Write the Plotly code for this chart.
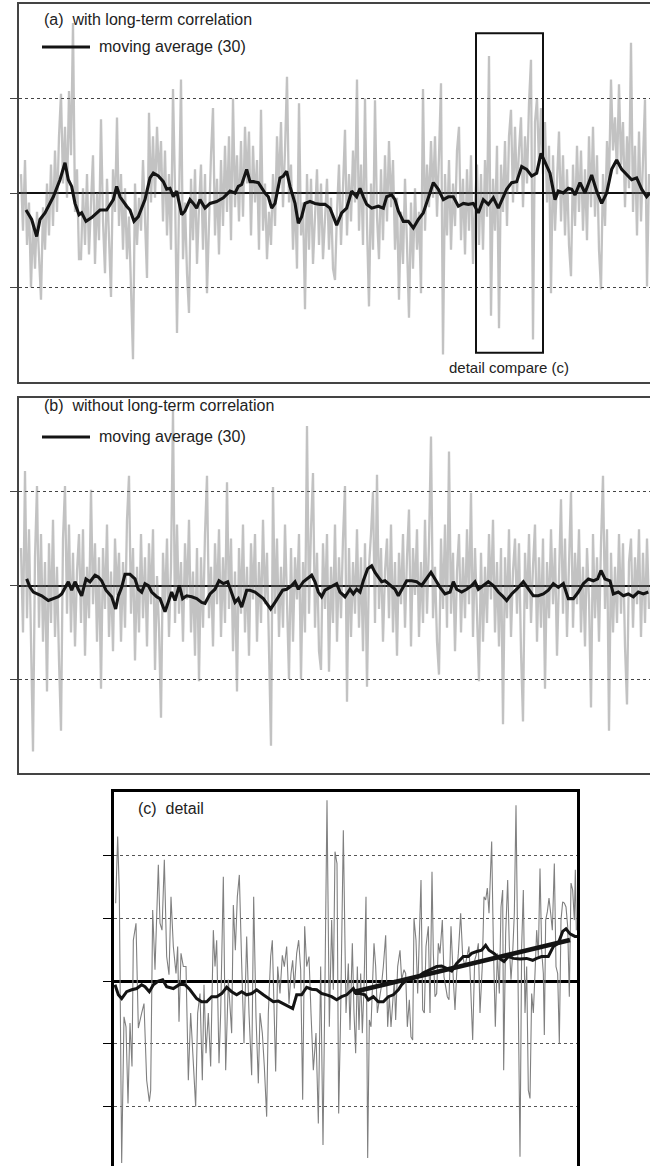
import plotly.graph_objects as go

W, H = 650, 1166

# ---------------- data ----------------
# (a) raw series with long-term correlation (hundredths), one sample every 6 time units from t=63
noise_a = [
    20, -40, 35, -55, -10, -100, -30, -80, -20, -65,
    -113, -15, -60, 10, -45, 30, -35, 45, -20, 60,
    105, 10, 70, -5, 108, 40, 180, -20, 25, -70,
    -70, 5, -55, 20, -65, -10, 40, -75, 0, -50,
    78, -30, -85, 15, -40, -110, 25, -20, 80, -35,
    20, -60, 5, -70, -25, -90, -176, 10, -55, -5,
    -40, 35, -20, -90, 85, -10, 60, -5, 70, 15,
    55, -30, 45, -45, 20, -60, 110, 5, -148, -20,
    120, -70, -10, -85, -127, 15, -50, 25, -75, -15,
    30, -60, 20, -106, -30, 40, 90, -45, 15, -65,
    35, -35, 50, -20, 60, -50, 100, -15, 40, -30,
    55, -25, 70, 10, 65, -45, 50, -10, 35, -60,
    88, -40, 10, -70, -20, -55, 20, -35, 60, 5,
    75, -15, 45, 123, -10, 30, -60, 0, -80, 95,
    -45, -10, -123, 20, -60, 15, -75, -20, 25, -55,
    10, -70, -25, 15, -60, -5, -80, -92, -20, 30,
    -55, 15, 67, -45, 20, -30, 45, -10, 120, -40,
    30, -55, 100, -35, -120, 10, -60, 98, -25, -70,
    25, -50, 40, -30, 55, -15, 35, -60, -5, -113,
    -20, -75, 15, -55, -132, -10, -80, 5, -60, -20,
    -106, 110, -40, 30, -15, 55, -5, 60, -25, 40,
    116, -171, 20, -45, 35, -60, 10, -35, 45, 70,
    -50, 15, -65, 25, -40, 40, -75, -10, 30, -55,
    20, -60, 35, -25, 145, -130, 15, -40, 50, -143,
    30, -20, 55, -35, 60, 88, -10, 70, 0, 45,
    80, -15, 60, 10, 95, 141, -155, 75, 100, 30,
    90, 20, 75, -10, 50, -106, 40, -40, 15, 65,
    -30, 40, -45, 25, -55, -88, 30, -35, 50, -20,
    45, -40, 25, -50, 60, -15, 70, -25, 40, -60,
    -102, 20, -35, 55, 10, 120, 45, 80, 20, 115,
    30, 75, -15, 60, 5, 159, -20, 50, -45, 65,
    -30, 40, 99, -99, 20,
]

# (b) raw series without long-term correlation (hundredths)
noise_b = [
    40, -50, 122, -35, 60, -70, -177, 30, 106, -45,
    55, -60, 25, -113, 45, -40, 70, -55, 20, -80,
    -155, 50, 106, -30, 65, -50, 35, -65, 15, 55,
    -40, 60, -75, 20, -35, 102, -20, 45, -60, 30,
    -110, 40, -25, 65, -55, 15, -70, 50, -10, 35,
    -60, 25, -45, 70, 117, -30, 40, -80, 20, -50,
    55, -35, 30, -65, 45, -20, 60, -90, 10, -45,
    -141, 35, -25, 50, -55, 20, 187, -40, 65, -30,
    25, -60, 45, -15, 70, -50, 15, -75, 40, -102,
    30, -45, 55, 117, -35, 20, -65, 45, -20, 60,
    -55, 30, -40, 110, -25, 50, -70, 15, -113, 40,
    -30, 65, -50, 20, -75, 45, -15, 55, -60, 25,
    -40, 70, -20, 35, -85, -171, 105, -30, 50, -55,
    20, -45, 65, -25, -100, 40, -60, 30, -15, 55,
    -100, 25, -50, 170, -30, 60, 120, -45, 35, -70,
    -90, 45, -25, 55, -92, 20, -40, 65, -60, 30,
    -35, 50, 106, -124, 40, -55, 25, -30, 60, -45,
    30, -70, 45, -108, 20, 55, 100, -40, 118, -25,
    40, -60, 15, 50, -35, 65, -50, 25, -75, 35,
    -20, 55, -45, 30, 81, -65, 40, -10, 60, -55,
    25, -40, 70, -30, 45, 159, -35, 20, -60, -95,
    50, -25, 65, -45, 143, -30, 35, -70, 15, 55,
    -50, 30, -35, 60, -20, 99, -55, 40, -25, -102,
    35, -60, 20, -40, 55, -15, 70, -50, 25, -65,
    40, -148, 30, -35, 60, -55, 15, 50, -30, 45,
    -70, -145, 35, -25, 55, -40, 20, 65, -60, 30,
    -45, 50, -110, 25, -35, 60, -20, 40, -75, 15,
    92, -30, 50, -55, 25, 100, -45, 35, -20, 60,
    -50, 20, -65, 40, -15, -130, 55, -35, 30, -60,
    45, 117, -25, 60, -155, 35, -50, 20, -40, 55,
    -30, 45, -65, -127, 25, 50, -45, 30, -20, 60,
    -55, 35, -40, 50, -25,
]

# moving averages (30): (time, value)
ma_a = [
    (78, -0.18), (95, -0.28), (110, -0.46), (120, -0.28), (135, -0.21), (160, -0.04), (180, 0.14),
    (195, 0.32), (205, 0.14), (215, 0.07), (225, -0.11), (237, -0.23), (245, -0.21), (258, -0.30),
    (275, -0.26), (300, -0.18), (320, -0.18), (340, -0.07), (350, 0.07), (360, -0.04), (380, -0.14),
    (390, -0.18), (402, -0.30), (415, -0.25), (435, -0.07), (450, 0.16), (460, 0.21), (475, 0.18),
    (490, 0.12), (500, 0.04), (510, 0.05), (520, -0.04), (530, 0.02), (545, -0.23), (555, -0.19),
    (570, -0.07), (580, -0.11), (590, -0.16), (600, -0.07), (615, -0.16), (630, -0.11), (650, -0.09),
    (670, -0.05), (690, 0.02), (705, 0.0), (715, 0.07), (725, 0.09), (740, 0.25), (750, 0.12),
    (760, 0.12), (775, 0.11), (785, 0.05), (795, 0.0), (805, -0.04), (815, -0.16), (825, -0.11),
    (840, 0.16), (850, 0.18), (860, 0.23), (870, 0.07), (885, -0.11), (895, -0.32), (905, -0.25),
    (915, -0.11), (930, -0.09), (945, -0.11), (960, -0.12), (975, -0.12),
    (990, -0.16), (1010, -0.34), (1025, -0.21), (1040, -0.16), (1055, 0.02), (1070, -0.04),
    (1080, 0.05), (1090, -0.04), (1100, -0.12), (1115, -0.16), (1135, -0.14), (1150, -0.16),
    (1160, -0.04), (1175, -0.02), (1185, -0.07), (1195, -0.19), (1210, -0.30), (1225, -0.30),
    (1240, -0.37), (1255, -0.28), (1270, -0.21), (1285, -0.05), (1300, 0.11), (1315, 0.04),
    (1330, -0.07), (1345, -0.04), (1360, -0.04), (1375, -0.14), (1390, -0.11), (1405, -0.12),
    (1420, -0.11), (1435, -0.21), (1450, -0.07), (1465, -0.12), (1480, -0.05), (1495, -0.16),
    (1510, -0.05), (1520, 0.04), (1535, 0.11), (1550, 0.12), (1565, 0.28), (1580, 0.25),
    (1595, 0.18), (1610, 0.21), (1623, 0.42), (1635, 0.32), (1650, 0.21), (1665, -0.07),
    (1675, 0.02), (1690, 0.0), (1705, 0.05), (1715, 0.04), (1725, -0.02), (1740, 0.11),
    (1755, 0.0), (1775, 0.19), (1790, 0.02), (1805, -0.11), (1820, 0.0), (1835, 0.25),
    (1850, 0.35), (1865, 0.25), (1880, 0.19), (1895, 0.14), (1910, 0.16), (1925, 0.04),
    (1940, -0.04), (1950, 0.0),
]

ma_b = [
    (80, 0.07), (90, -0.02), (100, -0.07), (115, -0.09), (125, -0.11), (145, -0.16), (160, -0.14),
    (175, -0.12), (185, -0.09), (195, -0.02), (205, 0.04), (215, -0.05), (225, 0.04), (235, -0.04),
    (245, -0.11), (258, 0.07), (270, 0.04), (285, 0.11), (295, 0.09), (305, 0.05), (318, -0.05),
    (335, -0.12), (347, -0.25), (355, -0.11), (365, -0.02), (375, 0.12), (390, 0.12), (405, 0.07),
    (415, -0.04), (425, -0.07), (435, 0.02), (445, 0.0), (455, -0.07), (470, -0.12), (480, -0.14),
    (495, -0.28), (505, -0.18), (515, -0.07), (525, -0.16), (538, 0.0), (548, -0.14), (560, -0.11),
    (575, -0.12), (590, -0.14), (605, -0.18), (615, -0.19), (630, -0.09), (645, -0.04), (657, 0.05),
    (670, 0.02), (683, 0.04), (693, -0.05), (705, -0.18), (715, -0.14), (725, -0.23), (740, -0.05),
    (750, -0.05), (765, -0.07), (780, -0.11), (790, -0.14), (800, -0.19), (812, -0.25), (825, -0.18),
    (835, -0.12), (848, -0.05), (860, -0.04), (875, 0.0), (885, 0.04), (895, -0.04), (910, 0.04),
    (922, 0.07), (935, 0.11), (945, 0.04), (955, -0.07), (965, -0.12), (975, -0.05),
    (990, -0.02), (1000, 0.0), (1010, 0.02), (1020, -0.07), (1035, -0.12), (1050, -0.04),
    (1060, -0.09), (1070, -0.04), (1080, -0.07), (1090, 0.05), (1103, 0.18), (1115, 0.21),
    (1125, 0.14), (1135, 0.09), (1145, 0.04), (1155, 0.05), (1170, 0.0), (1185, -0.04),
    (1195, -0.11), (1210, -0.02), (1220, 0.05), (1235, 0.05), (1250, 0.04), (1265, 0.0),
    (1280, 0.07), (1293, 0.14), (1305, 0.07), (1320, -0.02), (1335, -0.09), (1350, -0.07),
    (1360, 0.04), (1370, -0.04), (1385, -0.07), (1400, -0.04), (1415, 0.0), (1425, 0.04),
    (1435, -0.04), (1450, 0.0), (1465, 0.04), (1480, 0.0), (1495, -0.07), (1507, -0.11),
    (1520, -0.16), (1535, -0.09), (1550, -0.04), (1570, 0.04), (1585, -0.04), (1600, -0.11),
    (1615, -0.11), (1630, -0.09), (1645, -0.05), (1660, 0.02), (1675, -0.02), (1690, 0.02),
    (1705, -0.14), (1720, -0.14), (1735, -0.07), (1750, 0.02), (1765, 0.07), (1780, 0.05),
    (1793, 0.07), (1803, 0.16), (1815, 0.07), (1830, 0.05), (1840, -0.09), (1855, -0.07),
    (1870, -0.11), (1885, -0.09), (1900, -0.12), (1915, -0.07), (1930, -0.09), (1945, -0.07),
]

# (c) detail: raw series (time, value)
detail_raw = [
    (47, 1.24), (53, 2.30), (58, 1.40), (65, -2.90), (72, -0.57), (78, -0.73), (84, -1.95),
    (90, -0.67), (96, -1.36), (100, 0.65), (108, 0.92), (115, -0.75), (125, -0.51), (132, -0.36),
    (140, -1.58), (148, -1.92), (152, -1.74), (158, 1.13), (165, 0.18), (175, 1.85), (180, 0.92),
    (186, 0.81), (193, 1.93), (200, 0.39), (207, 0.10), (213, 1.34), (220, 0.55), (228, 0.12),
    (233, 0.55), (237, -0.65), (243, 0.44), (250, 0.23), (258, 0.23), (265, -1.58), (272, -0.51),
    (280, -1.26), (287, -2.00), (293, -0.51), (300, -0.20), (307, -1.58), (312, -0.06),
    (318, -1.15), (325, -0.51), (332, -1.36), (340, 0.81), (345, 0.23), (350, 0.65), (357, -1.31),
    (362, -0.51), (370, 1.66), (377, -1.42), (385, 0.02), (395, -0.83), (400, 1.21), (406, 0.49),
    (412, 1.34), (418, 1.69), (425, 0.28), (432, -0.99), (440, 0.71), (447, -0.51), (455, -1.50),
    (461, 1.34), (468, -0.57), (475, -1.63), (480, -0.51), (487, -0.83), (493, -1.36),
    (500, -2.16), (505, -0.51), (512, 0.39), (517, 0.65), (522, -0.51), (527, -1.44), (533, 0.23),
    (540, -0.20), (547, 0.41), (553, 0.23), (560, 0.55), (567, -0.36), (573, 0.12), (578, 0.33),
    (583, -0.12), (590, 0.44), (596, 0.65), (602, 0.18), (608, -1.89), (614, 0.87), (620, 0.23),
    (627, 0.39), (633, -0.51), (640, -1.42), (648, -0.83), (655, -2.27), (662, 0.23),
    (669, -2.61), (675, 0.02), (681, 2.88), (688, -0.73), (695, 0.97), (700, -0.14), (705, 2.06),
    (711, 1.87), (716, -2.11), (722, -0.51), (730, 2.40), (738, -0.51), (745, 0.28),
    (750, -0.78), (757, 0.60), (762, -0.51), (767, -1.15), (772, 0.23), (777, -0.78), (782, 0.12),
    (787, -0.83), (792, -0.09), (798, 1.34), (803, -2.82), (808, -0.62), (813, -0.73),
    (817, -0.25), (822, 0.60), (827, 0.23), (832, -0.51), (838, -0.30), (844, -0.09), (850, 0.23),
    (857, 0.73), (863, -0.73), (868, -0.25), (873, -0.73), (878, -0.30), (883, 0.02),
    (887, -0.62), (893, 0.23), (900, 0.49), (905, 0.02), (912, 0.18), (917, 0.12), (922, -0.73),
    (928, -0.30), (933, -0.89), (938, -0.94), (942, 1.00), (948, 0.65), (953, -0.20), (958, 0.55),
    (963, 1.61), (968, -0.46), (973, -0.51), (978, 0.55), (985, 0.87), (990, -0.51), (996, 1.74),
    (1000, 0.44), (1005, -0.25), (1010, -0.20), (1015, 0.60), (1020, 0.44), (1027, 0.97),
    (1032, 0.07), (1037, -0.09), (1042, -0.25), (1047, -0.30), (1053, 0.87), (1060, 0.02),
    (1065, -0.46), (1070, 0.12), (1075, 0.44), (1082, 1.08), (1088, 0.39), (1095, 0.23),
    (1100, 0.39), (1107, 0.55), (1112, -0.09), (1118, -0.94), (1124, 0.33), (1130, 0.44),
    (1135, 0.60), (1140, -0.51), (1147, 0.25), (1152, 1.34), (1157, 1.29), (1162, 1.48),
    (1167, 1.08), (1172, 1.66), (1175, 2.22), (1180, 0.60), (1186, -0.73), (1192, 0.44),
    (1198, -0.20), (1203, 1.18), (1208, 1.45), (1211, -1.42), (1217, 0.76), (1223, 1.61),
    (1228, 0.55), (1233, 0.02), (1238, 0.44), (1243, 1.08), (1248, 2.80), (1253, 0.55),
    (1260, -2.80), (1265, 0.55), (1270, 1.45), (1275, -0.51), (1280, 0.23), (1285, -1.74),
    (1290, -1.87), (1295, -0.20), (1300, -0.51), (1305, 0.12), (1310, 0.81), (1315, 0.39),
    (1320, 1.79), (1325, 0.49), (1330, 0.12), (1333, -0.86), (1337, 0.97), (1342, 1.10),
    (1347, 1.32), (1352, 1.08), (1357, 0.81), (1363, 1.87), (1368, 0.23), (1373, 0.12),
    (1378, -0.99), (1383, 0.97), (1388, 1.26), (1393, 1.24), (1398, 1.18), (1403, 0.87),
    (1408, -0.25), (1413, 1.56), (1418, 1.45), (1423, 0.97), (1426, 1.77), (1429, 0.81),
]

detail_ma = [
    (45, -0.06), (55, -0.22), (65, -0.28), (80, -0.17), (95, -0.14), (110, -0.12), (125, -0.06),
    (135, -0.09), (148, -0.17), (160, -0.06), (175, 0.0), (188, 0.02), (200, -0.09), (220, -0.12),
    (240, -0.05), (255, -0.06), (270, -0.14), (290, -0.28), (305, -0.33), (320, -0.33),
    (335, -0.25), (350, -0.25), (365, -0.20), (380, -0.10), (395, -0.17), (410, -0.22),
    (425, -0.17), (440, -0.22), (455, -0.20), (470, -0.14), (490, -0.22), (505, -0.28),
    (520, -0.33), (535, -0.32), (550, -0.36), (565, -0.41), (578, -0.44), (590, -0.22),
    (605, -0.22), (620, -0.10), (635, -0.13), (650, -0.14), (665, -0.20), (680, -0.22),
    (695, -0.25), (710, -0.30), (725, -0.25), (740, -0.22), (760, -0.12), (768, -0.20),
    (780, -0.20), (795, -0.22), (805, -0.30), (820, -0.25), (835, -0.33), (850, -0.33),
    (865, -0.25), (880, -0.22), (895, -0.14), (905, -0.06), (920, 0.02), (935, 0.03), (955, 0.07),
    (970, 0.13), (990, 0.18), (1010, 0.23), (1025, 0.24), (1040, 0.20), (1055, 0.16), (1070, 0.28),
    (1080, 0.33), (1090, 0.39), (1105, 0.39), (1115, 0.44), (1130, 0.47), (1145, 0.49),
    (1157, 0.57), (1167, 0.49), (1182, 0.44), (1198, 0.36), (1212, 0.31), (1225, 0.39),
    (1240, 0.36), (1260, 0.35), (1280, 0.36), (1298, 0.33), (1310, 0.36), (1325, 0.39),
    (1345, 0.39), (1360, 0.55), (1375, 0.60), (1388, 0.79), (1398, 0.83), (1410, 0.75),
    (1425, 0.71), (1431, 0.71),
]

detail_trend = [(760, -0.175), (1410, 0.653)]

# detail window marked in (a): time span and value span
detail_window_t = (1428, 1629)
detail_window_v = (-1.69, 1.69)

# ---------------- figure ----------------
t_a = [63 + 6 * k for k in range(len(noise_a))]
t_b = [63 + 6 * k for k in range(len(noise_b))]

fig = go.Figure()
noise_style = dict(color="rgba(120,120,120,0.45)", width=2.3)
ma_style = dict(color="#141414", width=3.1)

fig.add_trace(go.Scatter(x=t_a, y=[v / 100 for v in noise_a], mode="lines", line=noise_style,
                         xaxis="x", yaxis="y", hoverinfo="skip"))
fig.add_trace(go.Scatter(x=[p[0] for p in ma_a], y=[p[1] for p in ma_a], mode="lines", line=ma_style,
                         xaxis="x", yaxis="y", hoverinfo="skip"))
fig.add_trace(go.Scatter(x=t_b, y=[v / 100 for v in noise_b], mode="lines", line=noise_style,
                         xaxis="x2", yaxis="y2", hoverinfo="skip"))
fig.add_trace(go.Scatter(x=[p[0] for p in ma_b], y=[p[1] for p in ma_b], mode="lines", line=ma_style,
                         xaxis="x2", yaxis="y2", hoverinfo="skip"))
fig.add_trace(go.Scatter(x=[p[0] for p in detail_raw], y=[p[1] for p in detail_raw], mode="lines",
                         line=dict(color="#808080", width=1.1), xaxis="x3", yaxis="y3", hoverinfo="skip"))
fig.add_trace(go.Scatter(x=[p[0] for p in detail_ma], y=[p[1] for p in detail_ma], mode="lines",
                         line=dict(color="#141414", width=3), xaxis="x3", yaxis="y3", hoverinfo="skip"))
fig.add_trace(go.Scatter(x=[p[0] for p in detail_trend], y=[p[1] for p in detail_trend], mode="lines",
                         line=dict(color="#141414", width=4.5), xaxis="x3", yaxis="y3", hoverinfo="skip"))


def py(px):
    return 1 - px / H


def px_x(px):
    return px / W


xa_common = dict(showgrid=False, zeroline=False, showticklabels=False, ticks="",
                 showline=True, mirror=True, linecolor="#444", linewidth=1.5, range=[57, 1950])
ya_common = dict(range=[-2, 2], tickvals=[-1, 0, 1], showticklabels=False, ticks="outside",
                 ticklen=7, tickcolor="#444", tickwidth=1, showgrid=True, gridcolor="#444",
                 griddash="dot", gridwidth=1, zeroline=True, zerolinecolor="#111",
                 zerolinewidth=1.6, showline=True, linecolor="#444", linewidth=1.5, mirror=False)

fig.update_layout(
    width=W, height=H, margin=dict(l=0, r=0, t=0, b=0),
    paper_bgcolor="white", plot_bgcolor="white", showlegend=False,
    font=dict(family="Liberation Sans, Arial, sans-serif", size=16, color="#222"),
    xaxis=dict(domain=[px_x(19), 1], anchor="y", **xa_common),
    yaxis=dict(domain=[py(382), py(4)], anchor="x", **ya_common),
    xaxis2=dict(domain=[px_x(19), 1], anchor="y2", **xa_common),
    yaxis2=dict(domain=[py(773), py(398)], anchor="x2", **ya_common),
    xaxis3=dict(domain=[px_x(114), px_x(577)], anchor="y3", range=[42, 1431], side="top",
                showgrid=False, zeroline=False, showticklabels=False, ticks="",
                showline=True, mirror=False, linecolor="black", linewidth=2.5),
    yaxis3=dict(domain=[0, py(792)], anchor="x3", range=[-2.946, 3.01],
                tickvals=[-2, -1, 0, 1, 2], showticklabels=False, ticks="outside", ticklen=8,
                tickcolor="black", tickwidth=1, showgrid=True, gridcolor="#555", griddash="dot",
                gridwidth=1, zeroline=True, zerolinecolor="black", zerolinewidth=2.5,
                showline=True, mirror=True, linecolor="black", linewidth=2.5),
)

shapes = [
    dict(type="rect", xref="x", yref="y", x0=detail_window_t[0], x1=detail_window_t[1],
         y0=detail_window_v[0], y1=detail_window_v[1], line=dict(color="#111", width=2)),
    dict(type="line", xref="paper", yref="paper", x0=px_x(42), x1=px_x(90), y0=py(47), y1=py(47),
         line=dict(color="#141414", width=3)),
    dict(type="line", xref="paper", yref="paper", x0=px_x(42), x1=px_x(90), y0=py(437), y1=py(437),
         line=dict(color="#141414", width=3)),
]
fig.update_layout(shapes=shapes)

ann = [
    ("(a)  with long-term correlation", 42, 20, "left", 16),
    ("moving average (30)", 97, 47, "left", 16),
    ("(b)  without long-term correlation", 42, 406, "left", 16),
    ("moving average (30)", 97, 437, "left", 16),
    ("detail compare (c)", 509, 368, "center", 15),
    ("(c)  detail", 136, 808, "left", 16),
]
fig.update_layout(annotations=[
    dict(text=t, x=px_x(x), y=py(y), xref="paper", yref="paper", xanchor=a, yanchor="middle",
         showarrow=False, font=dict(size=s, color="#222"))
    for t, x, y, a, s in ann
])

fig.write_html("out.html", config={"displayModeBar": False},
               post_script="document.body.style.margin='0';document.body.style.padding='0';")
